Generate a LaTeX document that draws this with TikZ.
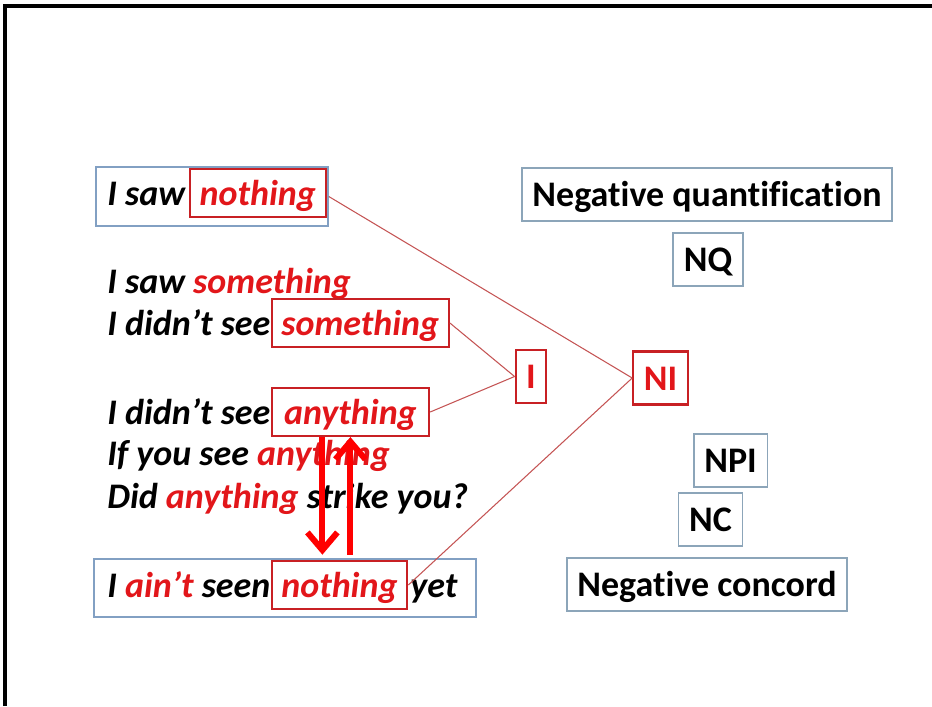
\documentclass[tikz,border=0pt]{standalone}
\usepackage{fontspec}
\setmainfont[Ligatures=NoCommon]{Carlito}
\usetikzlibrary{arrows.meta, calc, positioning}

\definecolor{slidered}{RGB}{226,22,26}
\definecolor{boxred}{RGB}{200,32,36}
\definecolor{linkred}{RGB}{196,84,84}
\definecolor{boxblue}{RGB}{130,160,195}
\definecolor{boxgray}{RGB}{140,165,185}

\newcommand{\px}{0.567pt}
\newcommand{\slidefont}{\fontsize{20.4}{24}\selectfont\bfseries}
\newcommand{\rw}[1]{\textcolor{slidered}{#1}}

\tikzset{
  sent/.style={anchor=base west, inner sep=0pt, font=\slidefont\itshape},
  redword/.style={draw=boxred, line width=1.2pt, text=slidered, anchor=base west,
    inner xsep=5.5pt, inner ysep=3pt, text height=17.4pt, text depth=3.8pt, font=\slidefont\itshape},
  sentbox/.style={draw=boxblue, line width=0.9pt, inner sep=0pt},
  termbox/.style={draw=boxgray, line width=0.9pt, inner xsep=6pt, inner ysep=6pt,
    text height=16pt, text depth=2pt, font=\slidefont},
  hub/.style={draw=boxred, line width=1.2pt, text=slidered, inner xsep=6pt, inner ysep=6pt,
    text height=16pt, text depth=2pt, font=\slidefont},
  link/.style={draw=linkred, line width=0.6pt},
  bigarrow/.style={draw=red, line width=3.4pt, -{Straight Barb[length=10pt,width=17pt]}}
}

\begin{document}
\begin{tikzpicture}[x=\px, y=-\px]
  \useasboundingbox (0,0) rectangle (932,706);
  % slide frame
  \draw[line width=2pt] (5,706) -- (5,6) -- (932,6);

  % sentence boxes
  \node[sentbox, minimum width=232*\px, minimum height=59*\px] (b1) at (212,196.5) {};
  \node[sentbox, minimum width=382*\px, minimum height=58*\px] (b7) at (285,588) {};

  % sentences
  \node[sent] (p1) at (107,205) {I saw};
  \node[redword] (w1) at ([xshift=2pt]p1.base east) {nothing};
  \node[sent] (l2) at (107,293) {I saw \rw{something}};
  \node[sent] (p3) at (107,335) {I didn’t see};
  \node[redword] (w3) at (p3.base east) {something};
  \node[sent] (p4) at (107,424) {I didn’t see};
  \node[redword, inner xsep=7pt] (w4) at (p4.base east) {anything};
  \node[sent] (l5) at (107,465) {If you see \rw{anything}};
  \node[sent] (l6) at (107,508) {Did \rw{anything} strike you?};
  \node[sent] (p7) at (107,597) {I \rw{ain’t} seen};
  \node[redword] (w7) at (p7.base east) {nothing};
  \node[sent] (yet) at ([xshift=1pt]w7.base east) {yet};

  % hubs
  \node[hub] (i) at (531,376.5) {I};
  \node[hub] (ni) at (660.5,378) {NI};

  % terms
  \node[termbox] (nqfull) at (707,194.5) {Negative quantification};
  \node[termbox] (nq) at (708,259.5) {NQ};
  \node[termbox] (npi) at (730.5,460.5) {NPI};
  \node[termbox] (nc) at (710.5,519.5) {NC};
  \node[termbox] (ncfull) at (707,584.5) {Negative concord};

  % links
  \draw[link] (b1.east) -- (ni.west);
  \draw[link] (w3.east) -- (i.west);
  \draw[link] (w4.east) -- (i.west);
  \draw[link] (w7.east) -- (ni.west);

  % arrows between anything and nothing
  \coordinate (dn) at ($(w4.south)+(-28,0)$);
  \draw[bigarrow, shorten >=3pt] (dn) -- (dn |- w7.north);
  \draw[bigarrow, shorten <=3pt] (w4.south |- w7.north) -- (w4.south);
\end{tikzpicture}
\end{document}
